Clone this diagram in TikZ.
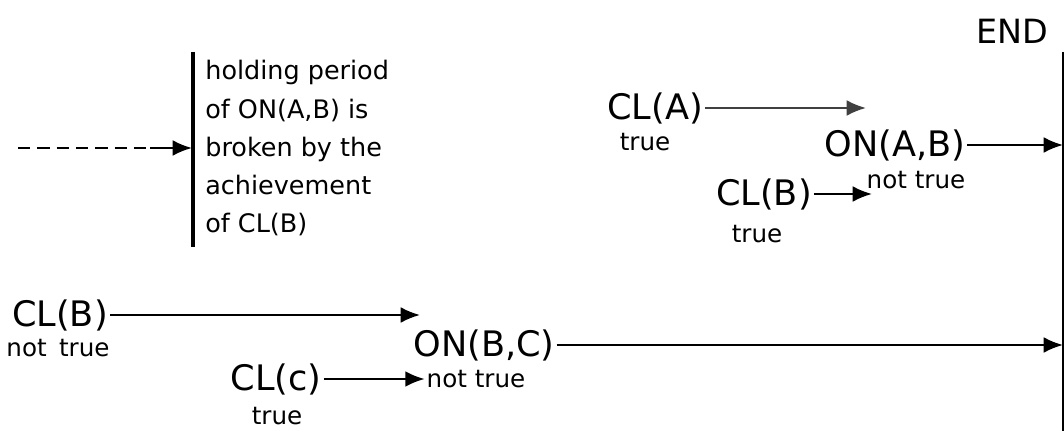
\documentclass[tikz,border=0pt]{standalone}
\usepackage{fontspec}
\setmainfont{DejaVu Sans}
\usetikzlibrary{arrows.meta}
\begin{document}
\begin{tikzpicture}[x=0.02cm,y=-0.02cm,
  big/.style={font=\fontsize{20}{24}\selectfont, inner sep=1pt},
  small/.style={font=\fontsize{14}{16}\selectfont, inner sep=1pt},
  note/.style={font=\fontsize{14.5}{21.8}\selectfont, align=left, anchor=north west, inner sep=0pt},
  arr/.style={-{Latex[length=11pt,width=9pt]}, line width=1.2pt},
  bar/.style={line width=2pt},
  endline/.style={line width=1.2pt},
]
\useasboundingbox (0,0) rectangle (1064,431);

% end marker
\node[font=\fontsize{19}{21}\selectfont, inner sep=0pt] (end) at (1012,31) {END};
\coordinate (eTop) at (1063,52);
\coordinate (eBot) at (1063,431);
\draw[endline] (eTop) -- (eBot);

% left bar, dashed arrow, note
\coordinate (bTop) at (193,52);
\coordinate (bBot) at (193,247);
\draw[bar] (bTop) -- (bBot);
\coordinate (dStart) at (18,148);
\coordinate (dMid) at (150,148);
\coordinate (bHit) at (192,148);
\draw[line width=1.3pt, dash pattern=on 7pt off 4pt] (dStart) -- (dMid);
\draw[arr] (dMid) -- (bHit);
\node[note] (txt) at (205,60) {holding period\\of ON(A,B) is\\broken by the\\achievement\\of CL(B)};

% upper right group
\node[big] (cla) at (655,108) {CL(A)};
\node[small] (claT) at (645,142) {true};
\coordinate (claEnd) at (866,108);
\draw[arr, draw=black!75, -{Latex[length=11pt,width=9pt,fill=black!75]}] (cla) -- (claEnd);

\node[big] (onab) at (895,145) {ON(A,B)};
\node[small] (onabT) at (916,180) {not true};
\coordinate (onabEnd) at (1063,145);
\draw[arr] (onab) -- (onabEnd);

\node[big] (clb2) at (764,194) {CL(B)};
\node[small] (clb2T) at (757,234) {true};
\coordinate (clb2End) at (872,194);
\draw[arr] (clb2) -- (clb2End);

% lower group
\node[big] (clb1) at (60,315) {CL(B)};
\node[small] (clb1T) at (58,348) {not\enspace true};
\coordinate (clb1End) at (420,315);
\draw[arr] (clb1) -- (clb1End);

\node[big] (onbc) at (484,345) {ON(B,C)};
\node[small] (onbcT) at (476,379) {not true};
\coordinate (onbcEnd) at (1063,345);
\draw[arr] (onbc) -- (onbcEnd);

\node[big] (clc) at (276,379) {CL(c)};
\node[small] (clcT) at (277,416) {true};
\draw[arr] (clc) -- (onbcT);
\end{tikzpicture}
\end{document}
